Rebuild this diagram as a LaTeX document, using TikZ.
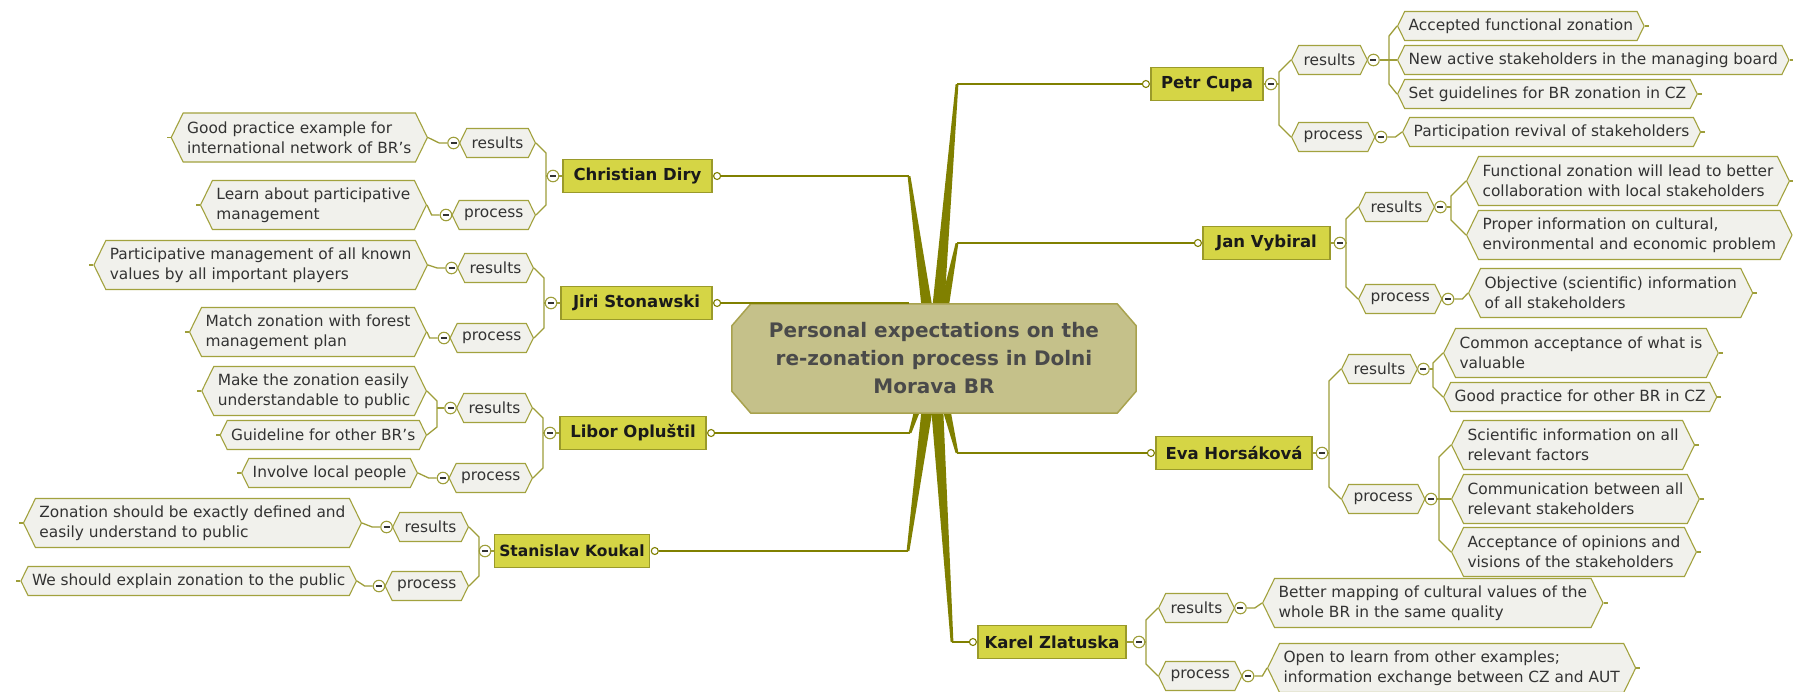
\documentclass[tikz,border=0pt]{standalone}
\usepackage{fontspec}
\setmainfont{DejaVu Sans}
\usetikzlibrary{shapes.symbols,backgrounds,calc}
\definecolor{olv}{HTML}{808000}
\definecolor{lnk}{HTML}{9E9E3A}
\definecolor{pfill}{HTML}{D5D545}
\definecolor{pdraw}{HTML}{9A9A2A}
\definecolor{cfill}{HTML}{C5C18A}
\definecolor{cdraw}{HTML}{A8A24E}
\definecolor{tfill}{HTML}{F1F1EC}
\definecolor{tdraw}{HTML}{A2A23E}
\definecolor{ttext}{HTML}{333333}
\definecolor{ttl}{HTML}{4A4A4A}
\definecolor{ntxt}{HTML}{1A1A1A}
\newcommand\mbar{\textcolor{ttext}{\rule{6pt}{1.6pt}}}
\tikzset{
  title/.style={align=center, font=\fontsize{20}{28}\selectfont\bfseries, text=ttl,
    minimum width=404pt, minimum height=109pt, inner sep=0pt},
  person/.style={rectangle, draw=pdraw, fill=pfill, line width=1.2pt,
    font=\fontsize{16.5}{20}\selectfont\bfseries, text=ntxt, minimum height=33pt,
    inner xsep=5pt, inner ysep=0pt},
  tagbox/.style={signal, signal to=east and west, signal pointer angle=128,
    draw=tdraw, fill=tfill, line width=1.1pt, font=\fontsize{15.4}{20}\selectfont,
    text=ttext, minimum height=29pt, inner xsep=5pt, inner ysep=0pt},
  itembox/.style={tagbox, inner xsep=4pt, align=left},
  itemtwo/.style={itembox, minimum height=49pt},
  minus/.style={circle, draw=lnk, fill=white, line width=1.1pt, minimum size=11.5pt, inner sep=0pt},
  link/.style={draw=lnk, line width=1.3pt},
  hline/.style={draw=olv, line width=2.2pt},
  knob/.style={circle, draw=olv, fill=white, line width=1.1pt, minimum size=7pt, inner sep=0pt},
}
\begin{document}
\begin{tikzpicture}[x=1pt,y=-1pt]
\useasboundingbox (0,0) rectangle (1793,691);
\begin{scope}[on background layer]
\fill[white] (0,0) rectangle (1793,691);
\end{scope}

% central topic
\node[title] (ctr) at (934,358.5) {Personal expectations on the\\re-zonation process in Dolni\\Morava BR};
\coordinate (jPetr) at (957,84);
\coordinate (jJan) at (957,243);
\coordinate (jEva) at (957,453);
\coordinate (jKarel) at (952,642);
\coordinate (jChr) at (909,176);
\coordinate (jJiri) at (909,303);
\coordinate (jLibor) at (910,433);
\coordinate (jStan) at (908,551);
\begin{scope}[on background layer]
\foreach \n in {jPetr,jJan,jEva,jKarel,jChr,jJiri,jLibor,jStan}
  \fill[olv] ($(ctr.center)+(-7,0)$) -- ($(\n)+(-1.4,0)$) -- ($(\n)+(1.4,0)$) -- ($(ctr.center)+(7,0)$) -- cycle;
\filldraw[fill=cfill, draw=cdraw, line width=1.5pt]
  ($(ctr.north west)+(19,0)$) -- ($(ctr.north east)+(-19,0)$) -- ($(ctr.north east)+(0,22)$)
  -- ($(ctr.south east)+(0,-22)$) -- ($(ctr.south east)+(-19,0)$) -- ($(ctr.south west)+(19,0)$)
  -- ($(ctr.south west)+(0,-22)$) -- ($(ctr.north west)+(0,22)$) -- cycle;
\end{scope}

% persons
\node[person, minimum width=112pt] (petr) at (1207,84) {Petr Cupa};
\node[person, minimum width=127pt] (jan) at (1266.5,243) {Jan Vybiral};
\node[person, minimum width=156pt] (eva) at (1234,453) {Eva Horsáková};
\node[person, minimum width=148pt] (karel) at (1052,642) {Karel Zlatuska};
\node[person, minimum width=149pt] (chr) at (637.5,176) {Christian Diry};
\node[person, minimum width=151pt] (jiri) at (636.5,303) {Jiri Stonawski};
\node[person, minimum width=146pt] (libor) at (633,433) {Libor Opluštil};
\node[person, minimum width=150pt, font=\fontsize{15.5}{20}\selectfont\bfseries] (stan) at (572,551) {Stanislav Koukal};

% knobs and branch lines
\foreach \p/\j in {petr/jPetr, jan/jJan, eva/jEva, karel/jKarel}{
  \node[knob] (k\p) at ($(\p.west)+(-4.5,0)$) {};
  \draw[hline] (\j) -- (k\p.west);
}
\foreach \p/\j in {chr/jChr, jiri/jJiri, libor/jLibor, stan/jStan}{
  \node[knob] (k\p) at ($(\p.east)+(4.5,0)$) {};
  \draw[hline] (\j) -- (k\p.east);
}

% person collapse buttons
\node[minus] (mPetr) at (1271,84) {\mbar};
\node[minus] (mJan) at (1340,243) {\mbar};
\node[minus] (mEva) at (1322,453) {\mbar};
\node[minus] (mKarel) at (1139,642) {\mbar};
\node[minus] (mChr) at (553,176) {\mbar};
\node[minus] (mJiri) at (551,303) {\mbar};
\node[minus] (mLibor) at (550,433) {\mbar};
\node[minus] (mStan) at (485,551) {\mbar};
\foreach \p/\m in {petr/mPetr, jan/mJan, eva/mEva, karel/mKarel}
  \draw[link] (\p.east) -- (\m.west);
\foreach \p/\m in {chr/mChr, jiri/mJiri, libor/mLibor, stan/mStan}
  \draw[link] (\p.west) -- (\m.east);

% ---------- right side tags ----------
\node[tagbox, anchor=west] (petrR) at (1291,60) {results};
\node[tagbox, anchor=west] (petrP) at (1291,137) {process};
\node[tagbox, anchor=west] (janR) at (1358,207) {results};
\node[tagbox, anchor=west] (janP) at (1358,299) {process};
\node[tagbox, anchor=west] (evaR) at (1341,369) {results};
\node[tagbox, anchor=west] (evaP) at (1341,499) {process};
\node[tagbox, anchor=west] (karR) at (1158,608) {results};
\node[tagbox, anchor=west] (karP) at (1158,676) {process};
\foreach \r/\q/\m in {petrR/petrP/mPetr, janR/janP/mJan, evaR/evaP/mEva, karR/karP/mKarel}{
  \draw[link] (\r.west) -- ++(-12,12) -- ($(\q.west)+(-12,-12)$) -- (\q.west);
  \coordinate (b\m) at ($(\r.west)+(-12,0)$);
  \draw[link] (\m.east) -- (\m.east -| b\m);
}
% ---------- left side tags ----------
\node[tagbox, anchor=east] (chrR) at (536,143) {results};
\node[tagbox, anchor=east] (chrP) at (536,215) {process};
\node[tagbox, anchor=east] (jiR) at (534,268) {results};
\node[tagbox, anchor=east] (jiP) at (534,338) {process};
\node[tagbox, anchor=east] (liR) at (533,408) {results};
\node[tagbox, anchor=east] (liP) at (533,478) {process};
\node[tagbox, anchor=east] (stR) at (469,527) {results};
\node[tagbox, anchor=east] (stP) at (469,586) {process};
\foreach \r/\q/\m in {chrR/chrP/mChr, jiR/jiP/mJiri, liR/liP/mLibor, stR/stP/mStan}{
  \draw[link] (\r.east) -- ++(10,10) -- ($(\q.east)+(10,-10)$) -- (\q.east);
  \coordinate (b\m) at ($(\r.east)+(10,0)$);
  \draw[link] (\m.west) -- (\m.west -| b\m);
}

% tag collapse buttons
\foreach \t in {petrR,petrP,janR,janP,evaR,evaP,karR,karP}
  \node[minus] (m\t) at ($(\t.east)+(5.5,0)$) {\mbar};
\foreach \t in {chrR,chrP,jiR,jiP,liR,liP,stR,stP}
  \node[minus] (m\t) at ($(\t.west)+(-5.5,0)$) {\mbar};

% ---------- right side items ----------
\node[itembox, anchor=west] (pI1) at (1397,26) {Accepted functional zonation};
\node[itembox, anchor=west] (pI2) at (1397,60) {New active stakeholders in the managing board};
\node[itembox, anchor=west] (pI3) at (1397,94) {Set guidelines for BR zonation in CZ};
\draw[link] (pI1.west) -- ++(-8,10) -- ($(pI3.west)+(-8,-10)$) -- (pI3.west);
\draw[link] (mpetrR.east) -- (pI2.west);
\node[itembox, anchor=west] (pI4) at (1402,132) {Participation revival of stakeholders};
\draw[link] (mpetrP.east) -- ++(8,0) -- (pI4.west);

\node[itemtwo, anchor=west] (jI1) at (1466,181) {Functional zonation will lead to better\\collaboration with local stakeholders};
\node[itemtwo, anchor=west] (jI2) at (1466,235) {Proper information on cultural,\\environmental and economic problem};
\draw[link] (jI1.west) -- ++(-15,15) -- ($(jI2.west)+(-15,-15)$) -- (jI2.west);
\coordinate (bjR) at ($(jI1.west)+(-15,0)$);
\draw[link] (mjanR.east) -- (mjanR.east -| bjR);
\node[itemtwo, anchor=west] (jI3) at (1468,293) {Objective (scientific) information\\of all stakeholders};
\draw[link] (mjanP.east) -- ++(8,0) -- (jI3.west);

\node[itemtwo, anchor=west] (eI1) at (1443,353) {Common acceptance of what is\\valuable};
\node[itembox, anchor=west] (eI2) at (1443,397) {Good practice for other BR in CZ};
\draw[link] (eI1.west) -- ++(-10,10) -- ($(eI2.west)+(-10,-10)$) -- (eI2.west);
\coordinate (beR) at ($(eI1.west)+(-10,0)$);
\draw[link] (mevaR.east) -- (mevaR.east -| beR);
\node[itemtwo, anchor=west] (eI3) at (1451,445) {Scientific information on all\\relevant factors};
\node[itemtwo, anchor=west] (eI4) at (1451,499) {Communication between all\\relevant stakeholders};
\node[itemtwo, anchor=west] (eI5) at (1451,552) {Acceptance of opinions and\\visions of the stakeholders};
\draw[link] (eI3.west) -- ++(-12,12) -- ($(eI5.west)+(-12,-12)$) -- (eI5.west);
\draw[link] (mevaP.east) -- (eI4.west);

\node[itemtwo, anchor=west] (kI1) at (1262,603) {Better mapping of cultural values of the\\whole BR in the same quality};
\draw[link] (mkarR.east) -- ++(8,0) -- (kI1.west);
\node[itemtwo, anchor=west] (kI2) at (1267,668) {Open to learn from other examples;\\information exchange between CZ and AUT};
\draw[link] (mkarP.east) -- ++(8,0) -- (kI2.west);

% ---------- left side items ----------
\node[itemtwo, anchor=east] (cI1) at (428,137.5) {Good practice example for\\international network of BR's};
\draw[link] (mchrR.west) -- ++(-8,0) -- (cI1.east);
\node[itemtwo, anchor=east] (cI2) at (427,205) {Learn about participative\\management};
\draw[link] (mchrP.west) -- ++(-8,0) -- (cI2.east);

\node[itemtwo, anchor=east] (sJ1) at (428,265) {Participative management of all known\\values by all important players};
\draw[link] (mjiR.west) -- ++(-8,0) -- (sJ1.east);
\node[itemtwo, anchor=east] (sJ2) at (427,332) {Match zonation with forest\\management plan};
\draw[link] (mjiP.west) -- ++(-8,0) -- (sJ2.east);

\node[itemtwo, anchor=east] (lI1) at (427,391) {Make the zonation easily\\understandable to public};
\node[itembox, anchor=east] (lI2) at (427,435) {Guideline for other BR's};
\draw[link] (lI1.east) -- ++(10,10) -- ($(lI2.east)+(10,-8)$) -- (lI2.east);
\coordinate (blR) at ($(lI1.east)+(10,0)$);
\draw[link] (mliR.west) -- (mliR.west -| blR);
\node[itembox, anchor=east] (lI3) at (418,473) {Involve local people};
\draw[link] (mliP.west) -- ++(-8,0) -- (lI3.east);

\node[itemtwo, anchor=east] (sI1) at (362,523) {Zonation should be exactly defined and\\easily understand to public};
\draw[link] (mstR.west) -- ++(-8,0) -- (sI1.east);
\node[itembox, anchor=east] (sI2) at (357,581) {We should explain zonation to the public};
\draw[link] (mstP.west) -- ++(-8,0) -- (sI2.east);

% small end stubs
\foreach \i in {pI1,pI2,pI3,pI4,jI1,jI2,jI3,eI1,eI2,eI3,eI4,eI5,kI1,kI2}
  \draw[link] (\i.east) -- ++(4,0);
\foreach \i in {cI1,cI2,sJ1,sJ2,lI1,lI2,lI3,sI1,sI2}
  \draw[link] (\i.west) -- ++(-4,0);
\end{tikzpicture}
\end{document}
